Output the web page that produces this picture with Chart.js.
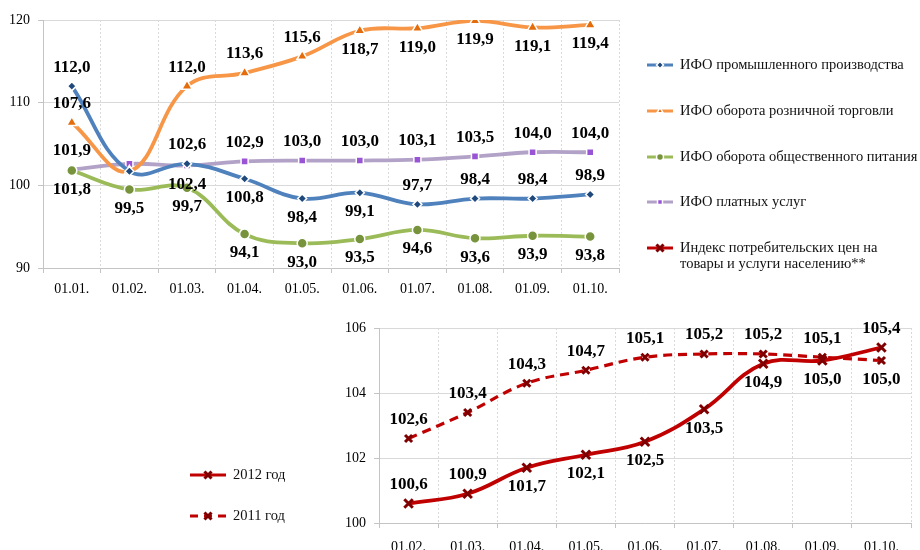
<!DOCTYPE html>
<html>
<head>
<meta charset="utf-8">
<script src="https://cdn.jsdelivr.net/npm/chart.js"></script>
<style>
  body { margin: 0; background: #fff; width: 920px; height: 550px; overflow: hidden; position: relative; }
  canvas { position: absolute; }
  #topChart { left: 0; top: 0; }
  #cpiChart { left: 170px; top: 305px; }
</style>
</head>
<body>
<canvas id="topChart" width="920" height="300"></canvas>
<canvas id="cpiChart" width="750" height="245"></canvas>
<script>
  // --- data ---
  const months = ["01.01.", "01.02.", "01.03.", "01.04.", "01.05.", "01.06.", "01.07.", "01.08.", "01.09.", "01.10."];
  const industry = [112.0, 101.7, 102.6, 100.8, 98.4, 99.1, 97.7, 98.4, 98.4, 98.9];
  const retail = [107.6, 101.7, 112.0, 113.6, 115.6, 118.7, 119.0, 119.9, 119.1, 119.4];
  const catering = [101.8, 99.5, 99.7, 94.1, 93.0, 93.5, 94.6, 93.6, 93.9, 93.8];
  const services = [101.9, 102.6, 102.4, 102.9, 103.0, 103.0, 103.1, 103.5, 104.0, 104.0];

  const cpiMonths = ["01.02.", "01.03.", "01.04.", "01.05.", "01.06.", "01.07.", "01.08.", "01.09.", "01.10."];
  const cpi2012 = [100.6, 100.9, 101.7, 102.1, 102.5, 103.5, 104.9, 105.0, 105.4];
  const cpi2011 = [102.6, 103.4, 104.3, 104.7, 105.1, 105.2, 105.2, 105.1, 105.0];

  const topTicks = { min: 90, max: 120, step: 10 };
  const cpiTicks = { min: 100, max: 106, step: 2 };

  // label placement: a = above, b = below, "" = none
  const industryPos = ["a", "", "a", "b", "b", "b", "a", "a", "a", "a"];
  const retailPos = ["a", "", "a", "a", "a", "b", "b", "b", "b", "b"];
  const cateringPos = ["b", "b", "b", "b", "b", "b", "b", "b", "b", "b"];
  const servicesPos = ["a", "", "b", "a", "a", "a", "a", "a", "a", "a"];
  const cpi2012Pos = ["a", "a", "b", "b", "b", "b", "b", "b", "a"];
  const cpi2011Pos = ["a", "a", "a", "a", "a", "a", "a", "a", "b"];

  const SERIF = '"Liberation Serif", "Times New Roman", serif';
  const gridColor = "#d9d9d9";
  const axisColor = "#c4c4c4";

  const valueLabels = {
    id: "valueLabels",
    afterDatasetsDraw(chart) {
      const ctx = chart.ctx;
      ctx.save();
      ctx.font = "bold 17px " + SERIF;
      ctx.fillStyle = "#000";
      ctx.textAlign = "center";
      ctx.textBaseline = "middle";
      chart.data.datasets.forEach((ds, i) => {
        const meta = chart.getDatasetMeta(i);
        meta.data.forEach((pt, j) => {
          const pos = ds.labelPos[j];
          if (!pos) return;
          const dy = pos === "a" ? -19 : 19;
          ctx.fillText(ds.data[j].toFixed(1).replace(".", ","), pt.x, pt.y + dy);
        });
      });
      ctx.restore();
    },
  };

  // legend drawn by hand so that it can hold wrapped text and the extra CPI entry
  function drawLegend(chart, items, x0, sampleW, rows) {
    const ctx = chart.ctx;
    ctx.save();
    ctx.font = "14.5px " + SERIF;
    ctx.textBaseline = "middle";
    ctx.textAlign = "left";
    items.forEach((it, i) => {
      const y = rows[i];
      ctx.strokeStyle = it.color;
      ctx.lineWidth = it.width;
      ctx.setLineDash(it.dash || []);
      ctx.beginPath();
      ctx.moveTo(x0, y);
      ctx.lineTo(x0 + sampleW, y);
      ctx.stroke();
      ctx.setLineDash([]);
      ctx.fillStyle = it.pointColor;
      ctx.strokeStyle = it.pointBorder;
      ctx.lineWidth = it.pointBorderWidth;
      Chart.helpers.drawPoint(ctx, { pointStyle: it.pointStyle, radius: it.radius, rotation: 0, borderWidth: it.pointBorderWidth }, x0 + sampleW / 2, y);
      ctx.fillStyle = "#111";
      it.text.forEach((line, k) => ctx.fillText(line, x0 + sampleW + 7, y + k * 16));
    });
    ctx.restore();
  }

  function lineSet(label, data, labelPos, color, pointStyle, pointColor, radius) {
    return {
      label, data, labelPos,
      borderColor: color,
      borderWidth: 3.8,
      tension: 0.4,
      pointStyle,
      pointRadius: radius,
      pointBackgroundColor: pointColor,
      pointBorderColor: "#fff",
      pointBorderWidth: 1.5,
      fill: false,
    };
  }

  const topSets = [
    lineSet("ИФО промышленного производства", industry, industryPos, "#4f81bd", "rectRot", "#1f497d", 4.5),
    lineSet("ИФО оборота розничной торговли", retail, retailPos, "#f79646", "triangle", "#e46c0a", 6),
    lineSet("ИФО оборота общественного питания", catering, cateringPos, "#9bbb59", "circle", "#77933c", 5),
    lineSet("ИФО платных услуг", services, servicesPos, "#b3a2c7", "rect", "#9954d6", 5),
  ];

  const topLegend = {
    id: "topLegend",
    afterDraw(chart) {
      const items = topSets.map((ds) => ({
        text: [ds.label], color: ds.borderColor, width: 3, pointStyle: ds.pointStyle,
        pointColor: ds.pointBackgroundColor, pointBorder: "#fff", pointBorderWidth: 1.5, radius: 3.5,
      }));
      items.push({
        text: ["Индекс потребительских цен на", "товары и услуги населению**"],
        color: "#c00000", width: 3, pointStyle: "crossRot", pointColor: "#7f0000",
        pointBorder: "#7f0000", pointBorderWidth: 3, radius: 5,
      });
      drawLegend(chart, items, 647, 26, [65, 111, 157, 202, 248]);
    },
  };

  function axes(labels, t, yWidth, xHeight, xPad) {
    return {
      x: {
        type: "category",
        labels,
        offset: true,
        afterFit: (s) => { s.height = xHeight; },
        grid: { offset: true, color: gridColor, tickLength: 5, tickColor: axisColor, drawOnChartArea: true },
        border: { color: axisColor, dash: [2, 2] },
        ticks: { color: "#000", font: { family: SERIF, size: 14 }, padding: xPad, maxRotation: 0, autoSkip: false },
      },
      y: {
        min: t.min, max: t.max,
        afterFit: (s) => { s.width = yWidth; },
        grid: { color: gridColor, tickLength: 5, tickColor: axisColor },
        border: { color: axisColor },
        ticks: { stepSize: t.step, color: "#000", font: { family: SERIF, size: 14 }, padding: 8 },
      },
    };
  }

  new Chart(document.getElementById("topChart"), {
    type: "line",
    data: { labels: months, datasets: topSets },
    options: {
      responsive: false,
      animation: false,
      layout: { padding: { left: 0, top: 20, right: 301, bottom: 0 } },
      plugins: { legend: { display: false }, tooltip: { enabled: false } },
      scales: axes(months, topTicks, 43, 32, 8),
    },
    plugins: [valueLabels, topLegend],
  });

  const cpiSets = [
    {
      label: "2012 год", data: cpi2012, labelPos: cpi2012Pos,
      borderColor: "#c00000", borderWidth: 3.8, tension: 0.4,
      pointStyle: "crossRot", pointRadius: 6, pointBorderWidth: 3,
      pointBorderColor: "#7f0000", pointBackgroundColor: "#7f0000",
    },
    {
      label: "2011 год", data: cpi2011, labelPos: cpi2011Pos,
      borderColor: "#c00000", borderWidth: 3.2, borderDash: [9, 6], tension: 0.4,
      pointStyle: "crossRot", pointRadius: 5, pointBorderWidth: 3,
      pointBorderColor: "#7f0000", pointBackgroundColor: "#7f0000",
    },
  ];

  const cpiLegend = {
    id: "cpiLegend",
    afterDraw(chart) {
      const items = cpiSets.map((ds) => ({
        text: [ds.label], color: ds.borderColor, width: 3, dash: ds.borderDash ? [8, 6] : [],
        pointStyle: "crossRot", pointColor: "#7f0000", pointBorder: "#7f0000", pointBorderWidth: 3, radius: 5,
      }));
      drawLegend(chart, items, 20, 36, [170, 211]);
    },
  };

  new Chart(document.getElementById("cpiChart"), {
    type: "line",
    data: { labels: cpiMonths, datasets: cpiSets },
    options: {
      responsive: false,
      animation: false,
      layout: { padding: { left: 166, top: 23, right: 4, bottom: 0 } },
      plugins: { legend: { display: false }, tooltip: { enabled: false } },
      scales: axes(cpiMonths, cpiTicks, 43, 27, 11),
    },
    plugins: [valueLabels, cpiLegend],
  });
</script>
</body>
</html>
